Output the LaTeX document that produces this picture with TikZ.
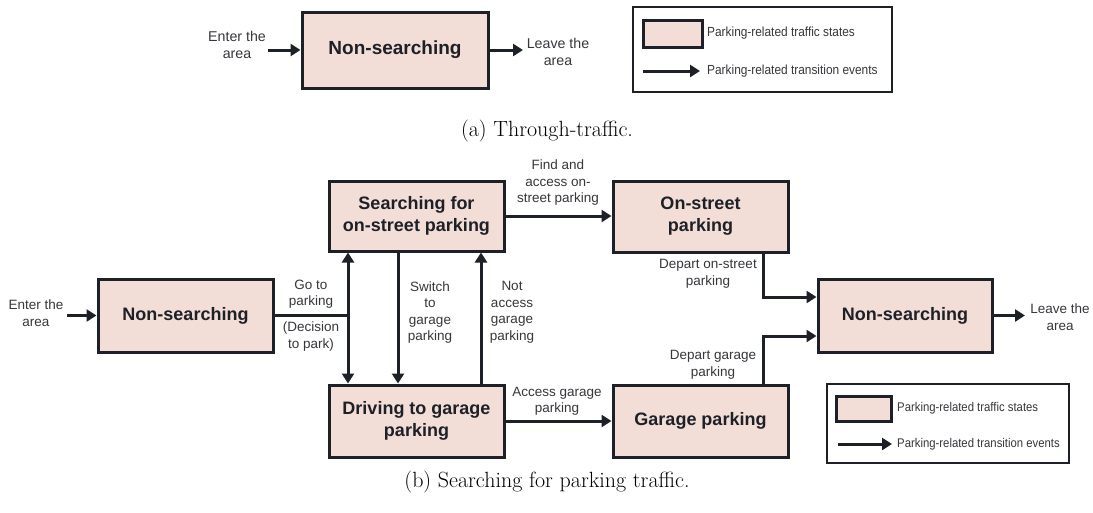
\documentclass[tikz,border=0pt]{standalone}
\usepackage{fontspec}
\newfontfamily\labelfont{Liberation Sans}
\newfontfamily\legendfont[FakeStretch=0.9]{Liberation Sans}
\usetikzlibrary{arrows.meta}

\definecolor{ink}{RGB}{30,32,40}
\definecolor{statefill}{RGB}{243,221,215}
\definecolor{labelgrey}{RGB}{55,55,60}

\begin{document}
\begin{tikzpicture}[x=1pt,y=-1pt,
  state/.style={draw=ink, line width=3pt, fill=statefill,
    minimum width=175pt, minimum height=71pt, inner sep=0pt, align=center,
    text=ink, font=\labelfont\bfseries\fontsize{18}{22}\selectfont},
  lbl/.style={align=center, text=labelgrey, inner sep=0pt,
    font=\labelfont\fontsize{13.5}{16.5}\selectfont},
  toplbl/.style={lbl, font=\labelfont\fontsize{14.2}{17.5}\selectfont},
  legtext/.style={anchor=west, inner sep=0pt, text=labelgrey},
  legframe/.style={draw=ink, line width=2.5pt, fill=white, inner sep=0pt},
  swatch/.style={draw=ink, line width=3pt, fill=statefill, inner sep=0pt},
  link/.style={draw=ink, line width=3pt},
  flow/.style={link, -{Triangle[length=10pt,width=12pt]}},
  twoway/.style={link, {Triangle[length=10pt,width=12pt]}-{Triangle[length=10pt,width=12pt]}},
  caption/.style={inner sep=0pt, font=\fontsize{22}{26}\selectfont}
]
\fill[white] (0,0) rectangle (1093,512);
\useasboundingbox (0,0) rectangle (1093,512);

% ---------- (a) through-traffic ----------
\node[state, minimum width=186pt, minimum height=76pt,
      font=\labelfont\bfseries\fontsize{19}{23}\selectfont] (nsA) at (395,50) {Non-searching};
\coordinate (inA) at (268,50);
\coordinate (outA) at (523,50);
\draw[flow] (inA) -- (nsA.west);
\draw[flow] (nsA.east) -- (outA);
\node[toplbl] (enterA) at (237,45) {Enter the\\area};
\node[toplbl] (leaveA) at (558,52) {Leave the\\area};

% legend (a)
\node[legframe, minimum width=259pt, minimum height=85pt] (legA) at (762.5,49.5) {};
\node[swatch, minimum width=59pt, minimum height=27pt] (swA) at (672.5,33.5) {};
\node[legtext, font=\legendfont\fontsize{13.2}{15}\selectfont] (stA) at (707,33) {Parking-related traffic states};
\coordinate (ar0) at (643,71);
\coordinate (ar1) at (700,71);
\draw[flow] (ar0) -- (ar1);
\node[legtext, font=\legendfont\fontsize{13.2}{15}\selectfont] (evA) at (707,71) {Parking-related transition events};

\node[caption] (capA) at (547,131) {(a) Through-traffic.};

% ---------- (b) searching-for-parking traffic ----------
\node[state, minimum height=73pt] (ns1) at (185.5,315.5) {Non-searching};
\node[state, minimum width=174pt, minimum height=73pt] (ns2) at (905,315.5) {Non-searching};
\node[state, minimum height=70pt] (srch) at (416.5,216) {Searching for\\on-street parking};
\node[state, minimum height=72pt] (drv) at (416.5,421) {Driving to garage\\parking};
\node[state] (onst) at (700.5,216.5) {On-street\\parking};
\node[state, minimum height=72pt] (gar) at (700.5,421) {Garage parking};

% guide coordinates for the vertical and elbow connectors
\coordinate (inB) at (67,315.5);
\coordinate (outB) at (1025,315.5);
\coordinate (gx) at (348,0);
\coordinate (sx) at (398,0);
\coordinate (nx) at (481,0);
\coordinate (dep1) at (763,297);
\coordinate (dep2) at (763,336);

\draw[flow] (inB) -- (ns1.west);
\draw[flow] (ns2.east) -- (outB);
\draw[link] (ns1.east) -- (ns1.east -| gx);
\draw[twoway] (srch.south -| gx) -- (drv.north -| gx);
\draw[flow] (srch.south -| sx) -- (drv.north -| sx);
\draw[flow] (drv.north -| nx) -- (srch.south -| nx);
\draw[flow] (srch.east) -- (srch.east -| onst.west);
\draw[flow] (drv.east) -- (drv.east -| gar.west);
\draw[flow] (onst.south -| dep1) |- (ns2.west |- dep1);
\draw[flow] (gar.north -| dep2) |- (ns2.west |- dep2);

\node[lbl] (enterB) at (36,313) {Enter the\\area};
\node[lbl] (leaveB) at (1060,317) {Leave the\\area};
\node[lbl] (goto) at (311,294) {Go to\\parking};
\node[lbl] (decide) at (311,336.5) {(Decision\\to park)};
\node[lbl] (switch) at (430,312.5) {Switch\\to\\garage\\parking};
\node[lbl] (notacc) at (512,312.5) {Not\\access\\garage\\parking};
\node[lbl] (find) at (558,183) {Find and\\access on-\\street parking};
\node[lbl] (access) at (557,401) {Access garage\\parking};
\node[lbl] (depon) at (708,274) {Depart on-street\\parking};
\node[lbl] (depgar) at (713,365) {Depart garage\\parking};

% legend (b)
\node[legframe, minimum width=242pt, minimum height=79pt] (legB) at (948,423.5) {};
\node[swatch, minimum width=55pt, minimum height=25pt] (swB) at (863.5,408.5) {};
\node[legtext, font=\legendfont\fontsize{12.6}{14}\selectfont] (stB) at (897,408) {Parking-related traffic states};
\coordinate (br0) at (838,444);
\coordinate (br1) at (892,444);
\draw[flow] (br0) -- (br1);
\node[legtext, font=\legendfont\fontsize{12.6}{14}\selectfont] (evB) at (897,444) {Parking-related transition events};

\node[caption] (capB) at (547,482) {(b) Searching for parking traffic.};
\end{tikzpicture}
\end{document}
